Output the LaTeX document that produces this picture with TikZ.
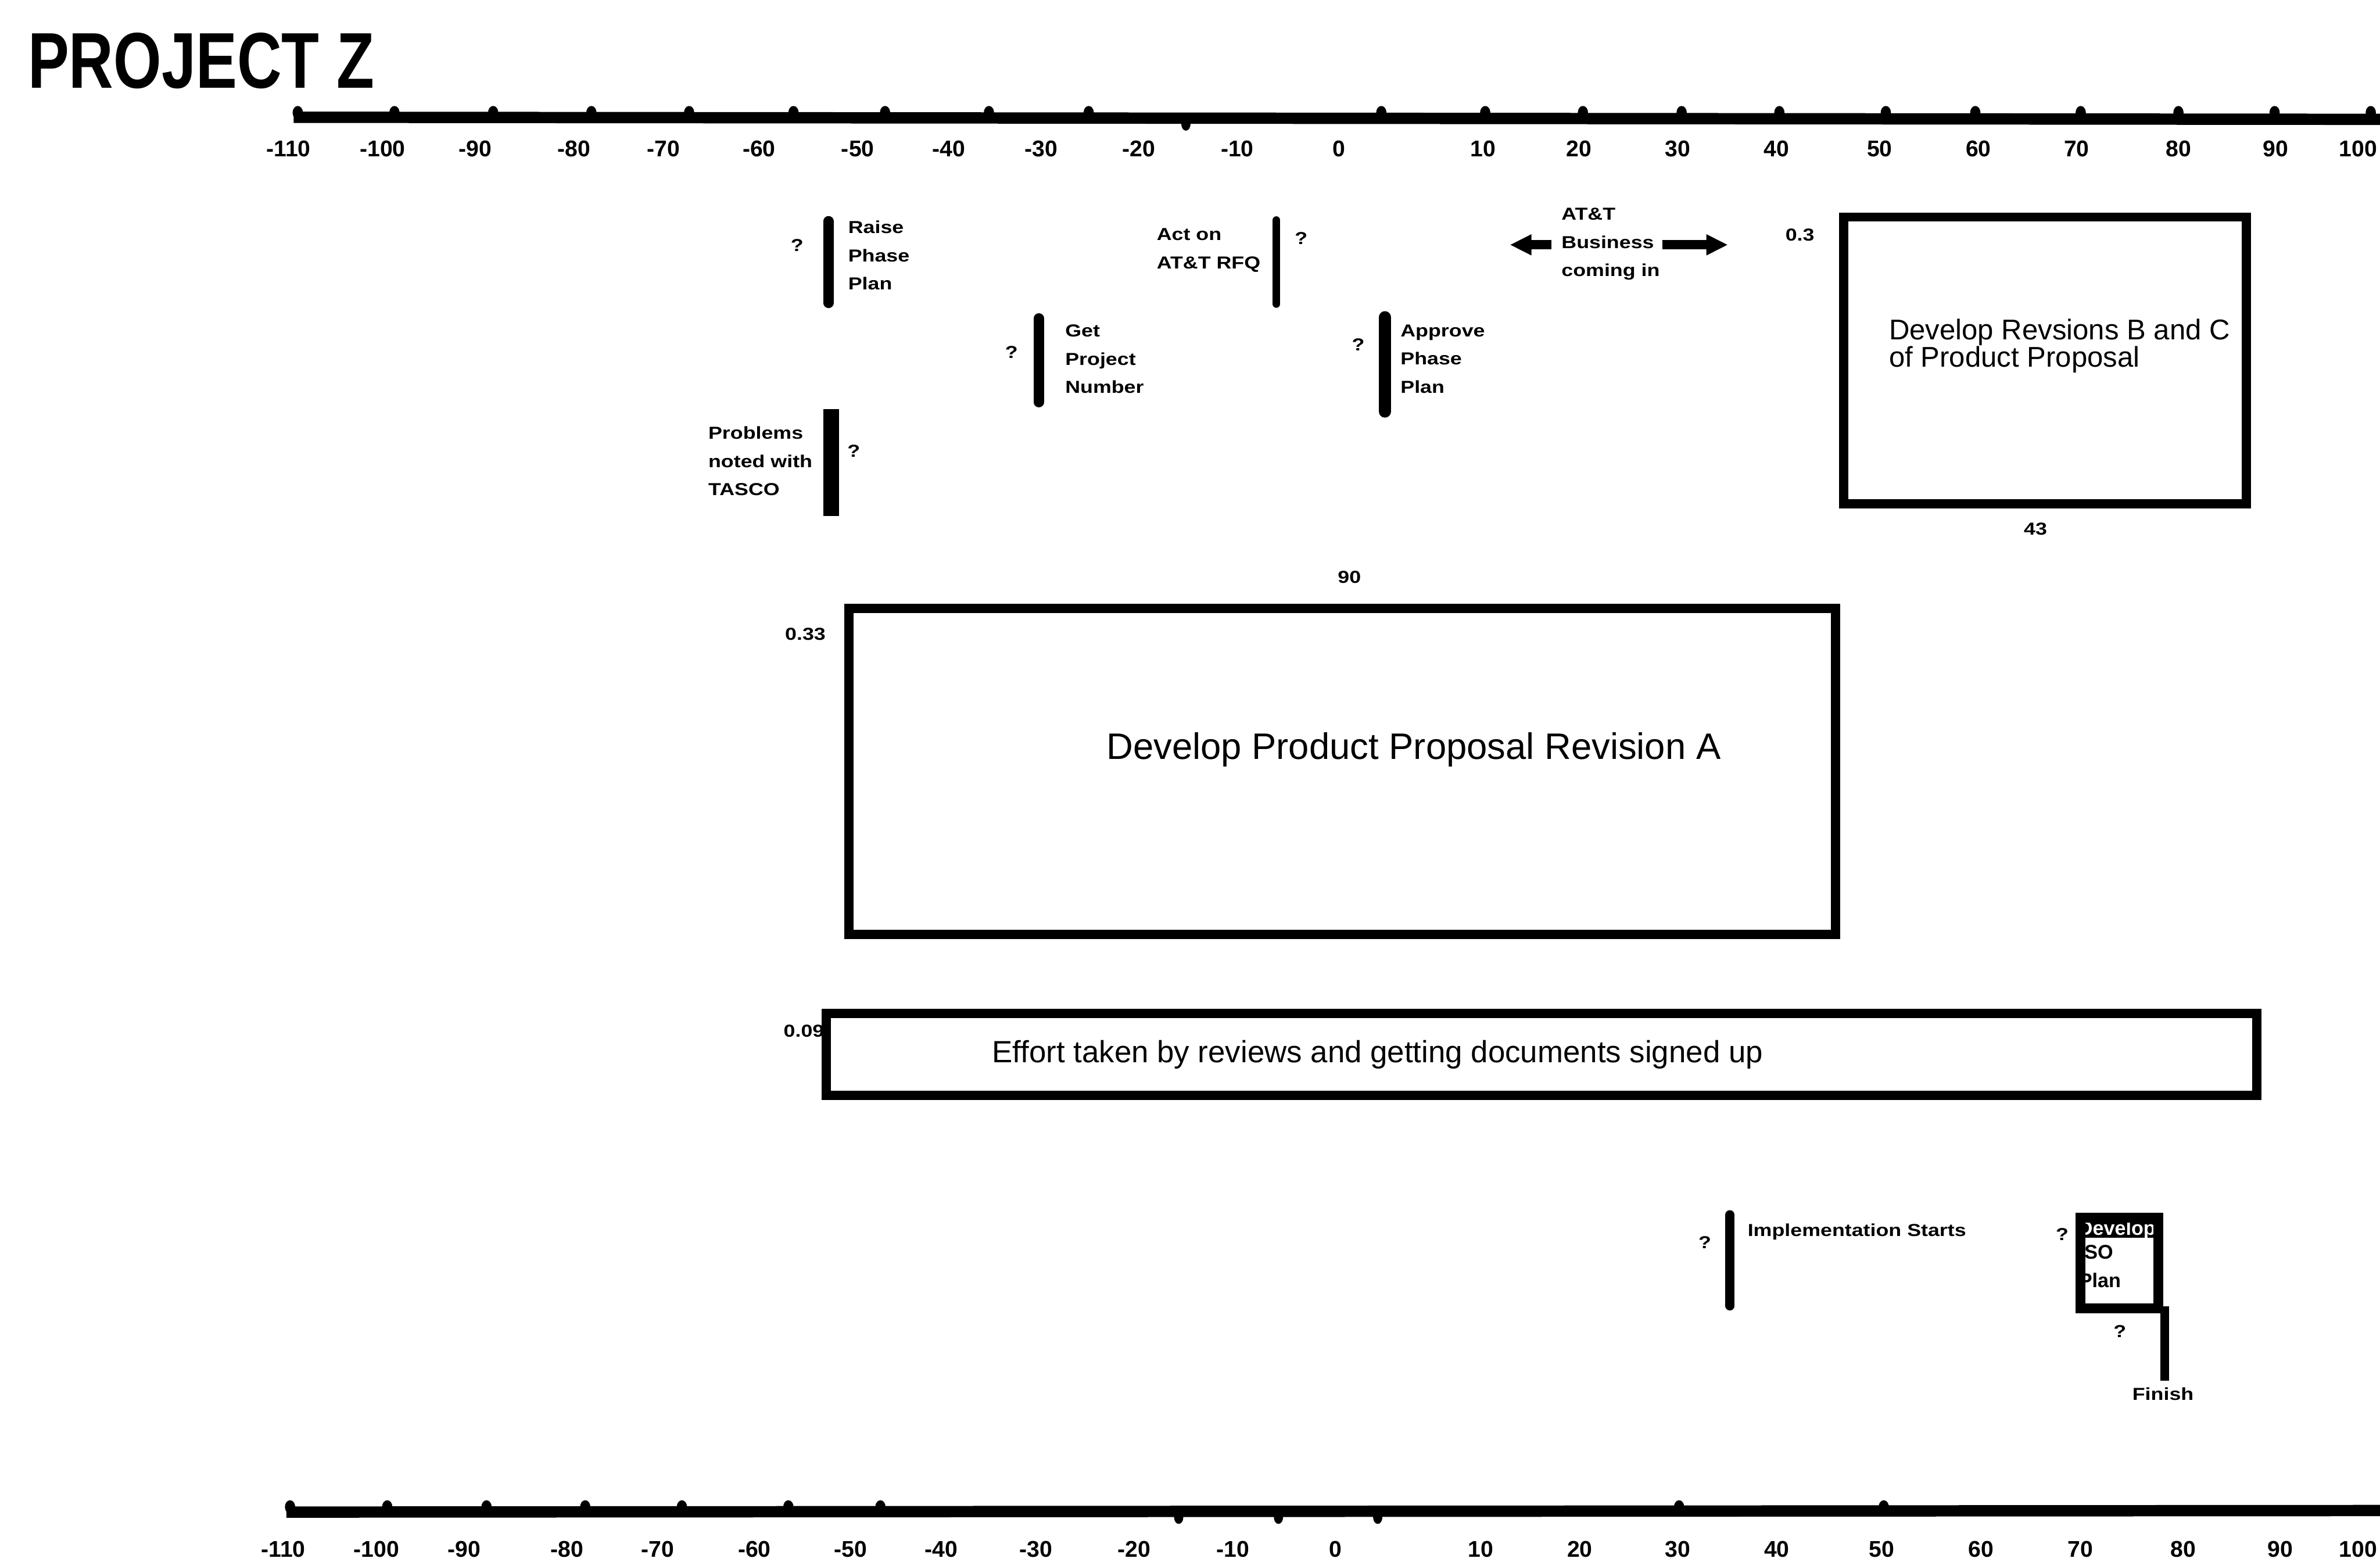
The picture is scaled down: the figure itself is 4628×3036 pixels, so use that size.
\documentclass[tikz,border=0pt]{standalone}
\usepackage{fontspec}
\setmainfont{Liberation Sans}
\newfontfamily\lsans{Liberation Sans}
\newfontfamily\lwide{Liberation Sans}[FakeStretch=1.2]
\newfontfamily\lnarrow{Liberation Sans}[FakeStretch=0.78]
\usetikzlibrary{arrows.meta}
\newlength{\pxu}\setlength{\pxu}{0.005cm}
\newcommand\rulerfont{\lsans\bfseries\fontsize{6.3pt}{7pt}\selectfont}
\newcommand\lblfont{\lwide\bfseries\fontsize{4.8pt}{7.8pt}\selectfont}
\begin{document}
\begin{tikzpicture}[x=0.005cm, y=-0.005cm,
  rulerline/.style={line width=22\pxu},
  rlab/.style={font=\rulerfont, anchor=base, inner sep=0},
  bigbox/.style={draw, line width=18\pxu, anchor=north west, inner sep=0},
  msbar/.style={line width=20\pxu, line cap=round},
  lbl/.style={font=\lblfont, align=left, anchor=north west, inner sep=0},
  qm/.style={font=\lblfont, inner sep=0},
  num/.style={font=\lblfont, inner sep=0},
  attarrow/.style={line width=18\pxu, -{Triangle[length=0.21cm, width=0.19cm]}}]
\useasboundingbox (0,0) rectangle (4628,3036);

% title
\node[anchor=base west, inner sep=0, font=\lnarrow\bfseries\fontsize{21.9pt}{24pt}\selectfont] (title) at (53,171) {PROJECT Z};

% top ruler
\draw[rulerline] (571,228) -- (4628,232);
\foreach \bx in {579,767,959,1150,1340,1543,1721,1923,2117,2686,2888,3078,3270,3460,3667,3841,4046,4236,4423,4610}
  \fill (\bx,219) ellipse [x radius=10, y radius=13];
\fill (2306,241) ellipse [x radius=9, y radius=13];
\foreach \lx/\lt in {561/-110,744/-100,924/-90,1116/-80,1290/-70,1476/-60,1668/-50,1845/-40,2025/-30,2214/-20,2406/-10,2604/0,2884/10,3070/20,3262/30,3454/40,3655/50,3847/60,4038/70,4236/80,4425/90}
  \node[rlab] (t\lt) at (\lx,305) {\lt};
\node[rlab, anchor=base east] (t100) at (4624,305) {100};

% bottom ruler
\draw[rulerline] (557,2940) -- (4628,2937);
\foreach \bx in {564,753,946,1138,1326,1533,1712,3265,3663}
  \fill (\bx,2930) ellipse [x radius=10, y radius=13];
\foreach \bx in {2292,2486,2679}
  \fill (\bx,2950) ellipse [x radius=9, y radius=13];
\foreach \lx/\lt in {551/-110,732/-100,903/-90,1103/-80,1279/-70,1467/-60,1654/-50,1830/-40,2014/-30,2205/-20,2397/-10,2597/0,2879/10,3072/20,3262/30,3455/40,3659/50,3852/60,4045/70,4245/80,4434/90}
  \node[rlab] (b\lt) at (\lx,3027) {\lt};
\node[rlab, anchor=base east] (b100) at (4624,3027) {100};

% milestones
\draw[msbar] (1611,430) -- (1611,589);
\node[qm] (qraise) at (1550,477) {?};
\node[lbl] (raise) at (1648,428) {Raise\\Phase\\Plan};

\draw[msbar, line width=15\pxu] (2482,428) -- (2482,591);
\node[lbl] (acton) at (2248,443) {Act on\\AT\&T RFQ};
\node[qm] (qact) at (2530,463) {?};

\draw[msbar] (2020,619) -- (2020,782);
\node[qm] (qget) at (1967,685) {?};
\node[lbl] (getpn) at (2070,630) {Get\\Project\\Number};

\draw[msbar, line width=24\pxu] (2693,617) -- (2693,800);
\node[qm] (qappr) at (2641,670) {?};
\node[lbl] (appr) at (2722,630) {Approve\\Phase\\Plan};

\draw[msbar, line width=31\pxu, line cap=butt] (1616,795) -- (1616,1003);
\node[lbl] (probs) at (1376,828) {Problems\\noted with\\TASCO};
\node[qm] (qprob) at (1660,877) {?};

% AT&T business
\node[lbl] (att) at (3035,403) {AT\&T\\Business\\coming in};
\coordinate (attLs) at (3017,476);
\coordinate (attL) at (2936,476);
\coordinate (attRs) at (3232,476);
\coordinate (attR) at (3360,476);
\draw[attarrow] (attLs) -- (attL);
\draw[attarrow] (attRs) -- (attR);

% box B and C
\node[bigbox, minimum width=783\pxu, minimum height=558\pxu] (boxbc) at (3576,413) {};
\node[anchor=north west, inner sep=0, align=left, font=\lsans\fontsize{7.9pt}{7.6pt}\selectfont] (txtbc) at (3672,619) {Develop Revsions B and C\\of Product Proposal};
\node[num] (n03) at (3500,457) {0.3};
\node[num] (n43) at (3958,1028) {43};

% box revision A
\node[num] (n90) at (2624,1122) {90};
\node[bigbox, minimum width=1918\pxu, minimum height=634\pxu] (boxa) at (1642,1174) {};
\node[num] (n033) at (1566,1233) {0.33};
\node[anchor=base, inner sep=0, font=\lsans\fontsize{10.2pt}{12pt}\selectfont] (txta) at (2749,1476) {Develop Product Proposal Revision A};

% effort box
\node[bigbox, minimum width=2781\pxu, minimum height=160\pxu] (boxeff) at (1598,1961) {};
\node[num, anchor=east] (n009) at (1604,2005) {0.09};
\node[anchor=base west, inner sep=0, font=\lsans\fontsize{8.5pt}{10pt}\selectfont] (txteff) at (1928,2066) {Effort taken by reviews and getting documents signed up};

% implementation starts
\draw[msbar, line width=18\pxu] (3364,2362) -- (3364,2539);
\node[qm] (qimpl) at (3315,2416) {?};
\node[lbl] (impl) at (3397,2378) {Implementation Starts};

% ISO plan box
\fill (4036,2358) rectangle (4206,2407);
\begin{scope}
  \clip (4055,2358) rectangle (4187,2553);
  \node[anchor=base west, inner sep=0, text=white, font=\lsans\bfseries\fontsize{5.5pt}{7.8pt}\selectfont] (isod) at (4040,2402) {Develop};
\end{scope}
\node[anchor=north west, inner sep=0, align=left, font=\lsans\bfseries\fontsize{5.5pt}{7.8pt}\selectfont] (isot) at (4041,2420) {ISO\\Plan};
\node[draw, line width=19\pxu, anchor=north west, inner sep=0, minimum width=151\pxu, minimum height=176\pxu] (iso) at (4036,2358) {};
\node[qm] (qiso) at (4010,2400) {?};

% finish
\draw[line width=17\pxu] (4209,2540) -- (4209,2684);
\node[qm] (qfin) at (4122,2589) {?};
\node[lbl, anchor=north] (finish) at (4206,2697) {Finish};
\end{tikzpicture}
\end{document}
